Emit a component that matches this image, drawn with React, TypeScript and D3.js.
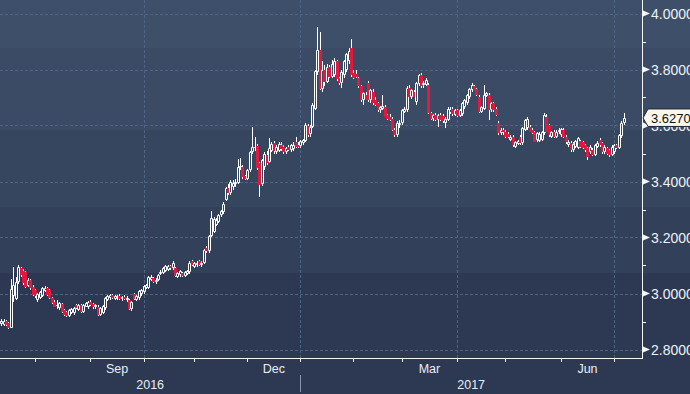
import * as d3 from 'd3'

// USD daily candles, 12 Jul 2016 -> 7 Jul 2017 (weekdays)
const startDay = new Date(2016, 6, 12)
const endDay = new Date(2017, 6, 8)

const opens = [
  2.890, 2.889, 2.902, 2.896, 2.878, 2.990, 2.980, 3.042, 3.090, 3.080,
  3.078, 3.028, 3.048, 3.024, 3.012, 2.978, 2.985, 2.990, 3.010, 3.018,
  3.012, 2.983, 2.971, 2.955, 2.947, 2.961, 2.941, 2.933, 2.920, 2.930,
  2.929, 2.959, 2.941, 2.959, 2.935, 2.953, 2.950, 2.971, 2.962, 2.950,
  2.953, 2.923, 2.932, 2.947, 2.978, 2.985, 2.995, 2.980, 2.985, 2.990,
  2.980, 2.988, 2.975, 2.978, 2.944, 2.998, 2.978, 2.985, 3.000, 3.005,
  3.020, 3.018, 3.050, 3.056, 3.040, 3.048, 3.070, 3.073, 3.080, 3.085,
  3.098, 3.090, 3.090, 3.058, 3.066, 3.073, 3.062, 3.070, 3.075, 3.115,
  3.095, 3.100, 3.115, 3.100, 3.108, 3.162, 3.150, 3.205, 3.220, 3.245,
  3.255, 3.280, 3.290, 3.335, 3.378, 3.358, 3.380, 3.390, 3.395, 3.448,
  3.452, 3.420, 3.410, 3.440, 3.505, 3.518, 3.527, 3.465, 3.390, 3.450,
  3.495, 3.470, 3.510, 3.536, 3.507, 3.510, 3.530, 3.525, 3.507, 3.525,
  3.512, 3.515, 3.542, 3.532, 3.527, 3.536, 3.545, 3.598, 3.568, 3.596,
  3.660, 3.790, 3.870, 3.730, 3.800, 3.755, 3.810, 3.775, 3.780, 3.830,
  3.770, 3.750, 3.780, 3.800, 3.830, 3.876, 3.786, 3.785, 3.770, 3.740,
  3.690, 3.710, 3.750, 3.690, 3.720, 3.690, 3.680, 3.655, 3.660, 3.667,
  3.637, 3.632, 3.625, 3.585, 3.566, 3.600, 3.608, 3.650, 3.655, 3.733,
  3.703, 3.720, 3.685, 3.748, 3.780, 3.745, 3.745, 3.745, 3.643, 3.622,
  3.637, 3.620, 3.637, 3.635, 3.610, 3.620, 3.645, 3.660, 3.638, 3.655,
  3.635, 3.640, 3.665, 3.680, 3.700, 3.728, 3.740, 3.730, 3.703, 3.650,
  3.660, 3.705, 3.710, 3.655, 3.679, 3.660, 3.610, 3.572, 3.583, 3.578,
  3.568, 3.550, 3.560, 3.525, 3.535, 3.560, 3.536, 3.585, 3.590, 3.596,
  3.585, 3.578, 3.548, 3.545, 3.550, 3.572, 3.632, 3.600, 3.560, 3.578,
  3.560, 3.575, 3.565, 3.584, 3.560, 3.530, 3.536, 3.512, 3.525, 3.520,
  3.545, 3.540, 3.530, 3.518, 3.506, 3.512, 3.494, 3.525, 3.548, 3.536,
  3.506, 3.518, 3.512, 3.494, 3.506, 3.530, 3.520, 3.562, 3.608,
]

const highs = [
  2.910, 2.908, 2.906, 2.900, 3.052, 3.096, 3.060, 3.100, 3.095, 3.088,
  3.082, 3.055, 3.052, 3.030, 3.016, 3.002, 3.008, 3.024, 3.028, 3.022,
  3.016, 2.988, 2.975, 2.975, 2.968, 2.966, 2.946, 2.936, 2.944, 2.948,
  2.950, 2.963, 2.962, 2.963, 2.962, 2.970, 2.972, 2.975, 2.966, 2.962,
  2.958, 2.950, 2.960, 2.988, 2.996, 2.999, 3.000, 2.995, 2.995, 2.997,
  2.992, 2.995, 2.990, 2.982, 2.972, 3.003, 2.995, 3.012, 3.015, 3.032,
  3.035, 3.062, 3.065, 3.060, 3.055, 3.070, 3.085, 3.095, 3.100, 3.100,
  3.100, 3.115, 3.095, 3.078, 3.085, 3.078, 3.080, 3.085, 3.115, 3.120,
  3.112, 3.115, 3.120, 3.115, 3.160, 3.170, 3.210, 3.295, 3.275, 3.270,
  3.285, 3.300, 3.325, 3.380, 3.390, 3.407, 3.405, 3.410, 3.480, 3.485,
  3.460, 3.425, 3.445, 3.510, 3.596, 3.560, 3.535, 3.470, 3.480, 3.505,
  3.510, 3.555, 3.540, 3.545, 3.530, 3.540, 3.540, 3.530, 3.525, 3.530,
  3.535, 3.540, 3.560, 3.540, 3.550, 3.552, 3.610, 3.605, 3.600, 3.680,
  3.800, 3.950, 3.935, 3.830, 3.815, 3.820, 3.815, 3.835, 3.840, 3.835,
  3.775, 3.800, 3.835, 3.860, 3.875, 3.910, 3.800, 3.800, 3.775, 3.745,
  3.720, 3.720, 3.760, 3.730, 3.730, 3.700, 3.685, 3.670, 3.710, 3.675,
  3.640, 3.640, 3.630, 3.590, 3.615, 3.620, 3.660, 3.665, 3.740, 3.745,
  3.730, 3.725, 3.755, 3.785, 3.788, 3.760, 3.770, 3.750, 3.650, 3.640,
  3.645, 3.640, 3.645, 3.640, 3.630, 3.665, 3.665, 3.665, 3.660, 3.660,
  3.660, 3.685, 3.695, 3.712, 3.735, 3.752, 3.745, 3.735, 3.710, 3.670,
  3.745, 3.720, 3.715, 3.685, 3.685, 3.665, 3.615, 3.590, 3.590, 3.585,
  3.575, 3.565, 3.565, 3.545, 3.550, 3.565, 3.595, 3.625, 3.632, 3.600,
  3.590, 3.580, 3.575, 3.575, 3.580, 3.645, 3.640, 3.605, 3.580, 3.585,
  3.585, 3.590, 3.590, 3.590, 3.565, 3.550, 3.545, 3.540, 3.550, 3.560,
  3.550, 3.545, 3.535, 3.525, 3.530, 3.520, 3.535, 3.545, 3.555, 3.540,
  3.530, 3.525, 3.515, 3.530, 3.535, 3.535, 3.570, 3.615, 3.645,
]

const lows = [
  2.885, 2.884, 2.884, 2.872, 2.875, 2.970, 2.976, 3.035, 3.060, 3.030,
  3.020, 3.022, 3.012, 2.990, 2.985, 2.970, 2.980, 2.986, 3.006, 2.992,
  2.980, 2.962, 2.950, 2.945, 2.942, 2.932, 2.920, 2.915, 2.916, 2.926,
  2.925, 2.944, 2.938, 2.932, 2.930, 2.950, 2.946, 2.956, 2.946, 2.946,
  2.920, 2.918, 2.928, 2.942, 2.974, 2.978, 2.980, 2.975, 2.978, 2.978,
  2.972, 2.976, 2.970, 2.940, 2.938, 2.976, 2.974, 2.978, 2.990, 3.000,
  3.015, 3.015, 3.045, 3.038, 3.035, 3.045, 3.065, 3.070, 3.075, 3.080,
  3.085, 3.085, 3.058, 3.055, 3.060, 3.058, 3.058, 3.065, 3.070, 3.098,
  3.090, 3.095, 3.098, 3.095, 3.105, 3.145, 3.145, 3.200, 3.215, 3.240,
  3.250, 3.275, 3.285, 3.330, 3.350, 3.350, 3.370, 3.380, 3.390, 3.440,
  3.410, 3.405, 3.405, 3.435, 3.500, 3.510, 3.440, 3.345, 3.385, 3.440,
  3.460, 3.465, 3.505, 3.500, 3.500, 3.505, 3.510, 3.500, 3.500, 3.510,
  3.505, 3.510, 3.520, 3.520, 3.520, 3.530, 3.540, 3.560, 3.560, 3.590,
  3.655, 3.780, 3.725, 3.720, 3.740, 3.750, 3.770, 3.770, 3.775, 3.760,
  3.745, 3.735, 3.770, 3.790, 3.820, 3.775, 3.765, 3.770, 3.735, 3.685,
  3.675, 3.690, 3.685, 3.680, 3.675, 3.670, 3.650, 3.645, 3.655, 3.630,
  3.620, 3.615, 3.580, 3.560, 3.560, 3.590, 3.600, 3.645, 3.650, 3.700,
  3.695, 3.700, 3.675, 3.740, 3.735, 3.735, 3.740, 3.640, 3.620, 3.615,
  3.615, 3.596, 3.615, 3.610, 3.590, 3.615, 3.640, 3.635, 3.635, 3.630,
  3.630, 3.635, 3.660, 3.675, 3.695, 3.720, 3.725, 3.705, 3.645, 3.645,
  3.655, 3.700, 3.620, 3.650, 3.650, 3.635, 3.565, 3.565, 3.565, 3.555,
  3.555, 3.545, 3.525, 3.520, 3.530, 3.530, 3.530, 3.580, 3.585, 3.575,
  3.568, 3.540, 3.540, 3.540, 3.545, 3.565, 3.575, 3.560, 3.555, 3.555,
  3.555, 3.570, 3.560, 3.555, 3.535, 3.525, 3.505, 3.505, 3.520, 3.515,
  3.520, 3.515, 3.505, 3.477, 3.500, 3.490, 3.490, 3.520, 3.525, 3.500,
  3.500, 3.495, 3.488, 3.490, 3.500, 3.515, 3.515, 3.555, 3.600,
]

const closes = [
  2.903, 2.902, 2.887, 2.876, 3.016, 3.030, 3.042, 3.094, 3.066, 3.036,
  3.024, 3.048, 3.018, 2.995, 2.990, 2.997, 3.004, 3.020, 3.020, 2.995,
  2.983, 2.965, 2.953, 2.960, 2.965, 2.935, 2.923, 2.918, 2.941, 2.944,
  2.947, 2.947, 2.959, 2.935, 2.959, 2.965, 2.968, 2.959, 2.950, 2.958,
  2.923, 2.947, 2.956, 2.983, 2.990, 2.993, 2.984, 2.990, 2.991, 2.982,
  2.986, 2.980, 2.985, 2.944, 2.968, 2.980, 2.990, 3.008, 3.012, 3.028,
  3.030, 3.058, 3.060, 3.040, 3.050, 3.067, 3.078, 3.090, 3.097, 3.097,
  3.090, 3.110, 3.062, 3.073, 3.080, 3.062, 3.075, 3.080, 3.110, 3.100,
  3.108, 3.110, 3.100, 3.108, 3.155, 3.150, 3.205, 3.270, 3.265, 3.262,
  3.280, 3.295, 3.320, 3.375, 3.358, 3.398, 3.395, 3.400, 3.452, 3.455,
  3.417, 3.410, 3.440, 3.505, 3.525, 3.525, 3.447, 3.387, 3.475, 3.498,
  3.465, 3.518, 3.535, 3.508, 3.525, 3.535, 3.515, 3.507, 3.520, 3.513,
  3.530, 3.530, 3.525, 3.525, 3.545, 3.548, 3.600, 3.566, 3.596, 3.673,
  3.795, 3.870, 3.730, 3.800, 3.755, 3.810, 3.775, 3.820, 3.830, 3.765,
  3.750, 3.790, 3.830, 3.855, 3.865, 3.780, 3.770, 3.772, 3.740, 3.690,
  3.715, 3.692, 3.690, 3.725, 3.680, 3.673, 3.655, 3.667, 3.668, 3.632,
  3.625, 3.620, 3.585, 3.566, 3.608, 3.610, 3.655, 3.658, 3.733, 3.703,
  3.727, 3.703, 3.750, 3.780, 3.740, 3.752, 3.762, 3.645, 3.625, 3.637,
  3.620, 3.637, 3.620, 3.615, 3.625, 3.660, 3.658, 3.640, 3.655, 3.635,
  3.655, 3.680, 3.690, 3.708, 3.730, 3.745, 3.728, 3.710, 3.650, 3.667,
  3.708, 3.715, 3.655, 3.679, 3.655, 3.638, 3.572, 3.585, 3.575, 3.560,
  3.560, 3.560, 3.530, 3.540, 3.545, 3.536, 3.590, 3.620, 3.625, 3.578,
  3.572, 3.542, 3.572, 3.570, 3.578, 3.637, 3.578, 3.566, 3.578, 3.560,
  3.578, 3.585, 3.586, 3.560, 3.542, 3.542, 3.512, 3.535, 3.546, 3.554,
  3.524, 3.520, 3.512, 3.488, 3.524, 3.494, 3.530, 3.536, 3.530, 3.506,
  3.524, 3.500, 3.494, 3.524, 3.530, 3.518, 3.566, 3.610, 3.627,
]

const priceTicks = [2.8, 3.0, 3.2, 3.4, 3.6, 3.8, 4.0]
const minorTicks = [2.9, 3.1, 3.3, 3.5, 3.7, 3.9]
const lastPrice = 3.627
const labelMonths = [8, 11, 2, 5] // Sep Dec Mar Jun
const gridMonths = [9, 0, 3, 6]   // quarter starts
const monthNames = ['Jan', 'Feb', 'Mar', 'Apr', 'May', 'Jun', 'Jul', 'Aug', 'Sep', 'Oct', 'Nov', 'Dec']

const bandColors = ['#3e4f69', '#3b4b65', '#37465f', '#334059', '#2d3953']
const bandEdges = [0, 48, 130, 207, 273, 394]

const W = 690
const H = 394
const plotR = 642
const plotB = 358
const FONT = '"Liberation Sans", Arial, sans-serif'
const RED = '#e2183d'
const GRID = '#4a6682'

export default function App() {
  const days = d3.timeDay.range(startDay, endDay).filter(d => d.getDay() !== 0 && d.getDay() !== 6)
  const n = days.length

  const x = d3.scaleLinear().domain([-0.5, n + 6.6]).range([0, plotR])
  const y = d3.scaleLinear().domain([2.8, 4.0]).range([349.5, 13.5])

  // first weekday of each month
  const monthStarts: { i: number; date: Date }[] = []
  days.forEach((d, i) => {
    if (i > 0 && d.getMonth() !== days[i - 1].getMonth()) monthStarts.push({ i, date: d })
  })
  const yearStart = monthStarts.find(m => m.date.getMonth() === 0)!

  const px = (v: number) => Math.round(v) + 0.5
  const yLast = y(lastPrice)

  return (
    <svg width={W} height={H} style={{ position: 'absolute', left: 0, top: 0, display: 'block' }}
      fontFamily={FONT}>
      {bandColors.map((c, i) => (
        <rect key={i} x={0} y={bandEdges[i]} width={W} height={bandEdges[i + 1] - bandEdges[i]} fill={c} />
      ))}

      {/* grid */}
      {priceTicks.map(t => (
        <line key={t} x1={0} x2={plotR} y1={px(y(t))} y2={px(y(t))} stroke={GRID} strokeDasharray="3,2" />
      ))}
      {monthStarts.filter(m => gridMonths.includes(m.date.getMonth())).map(m => (
        <line key={m.i} x1={px(x(m.i))} x2={px(x(m.i))} y1={0} y2={plotB} stroke={GRID} strokeDasharray="3,2" />
      ))}

      {/* candles */}
      {days.map((d, i) => {
        const o = opens[i], c = closes[i]
        const cx = Math.round(x(i))
        const up = c >= o
        const yTop = Math.round(y(Math.max(o, c)))
        const yBot = Math.max(Math.round(y(Math.min(o, c))), yTop + 1)
        const yHi = Math.round(y(Math.max(highs[i], o, c)))
        const yLo = Math.round(y(Math.min(lows[i], o, c)))
        return (
          <g key={i}>
            {yHi < yTop && <line x1={cx + 0.5} x2={cx + 0.5} y1={yHi} y2={yTop} stroke="#fff" />}
            {yLo > yBot && <line x1={cx + 0.5} x2={cx + 0.5} y1={yBot} y2={yLo} stroke="#fff" />}
            {up
              ? <path d={`M${cx - 0.5},${yTop + 0.5}H${cx + 1.5}V${yBot - 0.5}H${cx - 0.5}Z`} fill="none" stroke="#fff" />
              : <rect x={cx - 1} y={yTop} width={3} height={yBot - yTop} fill={RED} />}
          </g>
        )
      })}

      {/* right axis */}
      <line x1={plotR + 0.5} x2={plotR + 0.5} y1={0} y2={plotB + 1} stroke="#f4f6f8" />
      {minorTicks.map(t => (
        <line key={t} x1={plotR} x2={plotR + 4} y1={px(y(t))} y2={px(y(t))} stroke="#f4f6f8" />
      ))}
      {priceTicks.map(t => (
        <g key={t}>
          <polygon points={`${plotR + 1},${y(t) - 3} ${plotR + 8},${y(t)} ${plotR + 1},${y(t) + 3}`} fill="#f4f6f8" />
          <text x={651} y={y(t)} dy="0.36em" fontSize={14} fill="#eef2f7">{t.toFixed(4)}</text>
        </g>
      ))}

      {/* last price tag */}
      <polygon
        points={`${plotR + 1},${yLast} ${plotR + 6},${yLast - 9} ${W + 2},${yLast - 9} ${W + 2},${yLast + 8.5} ${plotR + 6},${yLast + 8.5}`}
        fill="#fdf7ea" stroke="#1c2538" />
      <text x={651} y={yLast} dy="0.36em" fontSize={13} fill="#111">{lastPrice.toFixed(4)}</text>

      {/* bottom axis */}
      <line x1={0} x2={plotR + 1} y1={plotB + 0.5} y2={plotB + 0.5} stroke="#f4f6f8" />
      {monthStarts.map(m => (
        <line key={m.i} x1={px(x(m.i))} x2={px(x(m.i))} y1={plotB} y2={plotB + 4} stroke="#f4f6f8" />
      ))}
      {monthStarts.filter(m => labelMonths.includes(m.date.getMonth())).map((m, k) => {
        const next = monthStarts[monthStarts.indexOf(m) + 1]
        const cx = (x(m.i) + x(next ? next.i : n)) / 2
        return (
          <text key={k} x={cx} y={373} textAnchor="middle" fontSize={12.5} fill="#e8eef5">
            {monthNames[m.date.getMonth()]}
          </text>
        )
      })}
      <line x1={px(x(yearStart.i))} x2={px(x(yearStart.i))} y1={375} y2={392} stroke="#8996aa" />
      <text x={x(yearStart.i) / 2} y={389} textAnchor="middle" fontSize={12.5} fill="#e8eef5">
        {yearStart.date.getFullYear() - 1}
      </text>
      <text x={(x(yearStart.i) + plotR) / 2} y={389} textAnchor="middle" fontSize={12.5} fill="#e8eef5">
        {yearStart.date.getFullYear()}
      </text>
    </svg>
  )
}
